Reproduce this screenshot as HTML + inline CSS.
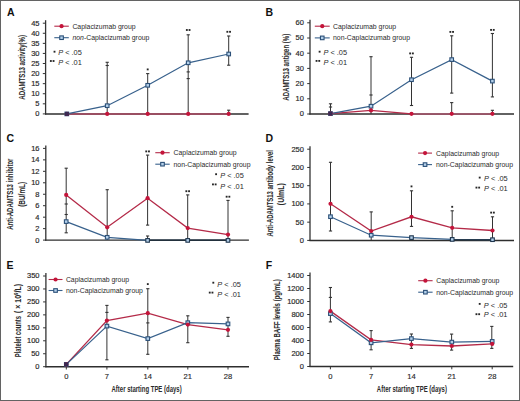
<!DOCTYPE html>
<html><head><meta charset="utf-8"><style>
html,body{margin:0;padding:0;background:#fff;}
#wrap{position:relative;width:520px;height:401px;box-sizing:border-box;border:1px solid #636363;overflow:hidden;background:#fff;}
svg{position:absolute;left:-1px;top:-1px;}
text{font-family:"Liberation Sans", sans-serif;}
</style></head><body><div id="wrap">
<svg width="520" height="401" viewBox="0 0 520 401" font-family='"Liberation Sans", sans-serif'>
<line x1="45.6" y1="20.2" x2="45.6" y2="114.5" stroke="#333" stroke-width="1.3"/>
<line x1="42.800000000000004" y1="113.90" x2="45.6" y2="113.90" stroke="#333" stroke-width="1"/>
<text x="39.5" y="116.35000000000001" font-size="7.5" text-anchor="end" font-weight="normal" font-style="normal" fill="#2a2a2a" stroke="#2a2a2a" stroke-width="0.18">0</text>
<line x1="42.800000000000004" y1="103.82" x2="45.6" y2="103.82" stroke="#333" stroke-width="1"/>
<text x="39.5" y="106.27222222222223" font-size="7.5" text-anchor="end" font-weight="normal" font-style="normal" fill="#2a2a2a" stroke="#2a2a2a" stroke-width="0.18">5</text>
<line x1="42.800000000000004" y1="93.74" x2="45.6" y2="93.74" stroke="#333" stroke-width="1"/>
<text x="39.5" y="96.19444444444446" font-size="7.5" text-anchor="end" font-weight="normal" font-style="normal" fill="#2a2a2a" stroke="#2a2a2a" stroke-width="0.18">10</text>
<line x1="42.800000000000004" y1="83.67" x2="45.6" y2="83.67" stroke="#333" stroke-width="1"/>
<text x="39.5" y="86.11666666666667" font-size="7.5" text-anchor="end" font-weight="normal" font-style="normal" fill="#2a2a2a" stroke="#2a2a2a" stroke-width="0.18">15</text>
<line x1="42.800000000000004" y1="73.59" x2="45.6" y2="73.59" stroke="#333" stroke-width="1"/>
<text x="39.5" y="76.0388888888889" font-size="7.5" text-anchor="end" font-weight="normal" font-style="normal" fill="#2a2a2a" stroke="#2a2a2a" stroke-width="0.18">20</text>
<line x1="42.800000000000004" y1="63.51" x2="45.6" y2="63.51" stroke="#333" stroke-width="1"/>
<text x="39.5" y="65.96111111111112" font-size="7.5" text-anchor="end" font-weight="normal" font-style="normal" fill="#2a2a2a" stroke="#2a2a2a" stroke-width="0.18">25</text>
<line x1="42.800000000000004" y1="53.43" x2="45.6" y2="53.43" stroke="#333" stroke-width="1"/>
<text x="39.5" y="55.88333333333334" font-size="7.5" text-anchor="end" font-weight="normal" font-style="normal" fill="#2a2a2a" stroke="#2a2a2a" stroke-width="0.18">30</text>
<line x1="42.800000000000004" y1="43.36" x2="45.6" y2="43.36" stroke="#333" stroke-width="1"/>
<text x="39.5" y="45.80555555555556" font-size="7.5" text-anchor="end" font-weight="normal" font-style="normal" fill="#2a2a2a" stroke="#2a2a2a" stroke-width="0.18">35</text>
<line x1="42.800000000000004" y1="33.28" x2="45.6" y2="33.28" stroke="#333" stroke-width="1"/>
<text x="39.5" y="35.72777777777779" font-size="7.5" text-anchor="end" font-weight="normal" font-style="normal" fill="#2a2a2a" stroke="#2a2a2a" stroke-width="0.18">40</text>
<line x1="42.800000000000004" y1="23.20" x2="45.6" y2="23.20" stroke="#333" stroke-width="1"/>
<text x="39.5" y="25.650000000000002" font-size="7.5" text-anchor="end" font-weight="normal" font-style="normal" fill="#2a2a2a" stroke="#2a2a2a" stroke-width="0.18">45</text>
<line x1="45.0" y1="113.9" x2="248.6" y2="113.9" stroke="#2e2e2e" stroke-width="1.45"/>
<line x1="107.2" y1="62.3" x2="107.2" y2="113.9" stroke="#333" stroke-width="1"/>
<line x1="105.60000000000001" y1="62.3" x2="108.8" y2="62.3" stroke="#333" stroke-width="1.1"/>
<line x1="105.60000000000001" y1="65.5" x2="108.8" y2="65.5" stroke="#333" stroke-width="1.1"/>
<line x1="147.7" y1="73.6" x2="147.7" y2="113.9" stroke="#333" stroke-width="1"/>
<line x1="146.1" y1="73.6" x2="149.29999999999998" y2="73.6" stroke="#333" stroke-width="1.1"/>
<line x1="188.2" y1="34.8" x2="188.2" y2="113.9" stroke="#333" stroke-width="1"/>
<line x1="186.6" y1="34.8" x2="189.79999999999998" y2="34.8" stroke="#333" stroke-width="1.1"/>
<line x1="186.6" y1="71.9" x2="189.79999999999998" y2="71.9" stroke="#333" stroke-width="1.1"/>
<line x1="186.6" y1="78.6" x2="189.79999999999998" y2="78.6" stroke="#333" stroke-width="1.1"/>
<line x1="228.7" y1="36" x2="228.7" y2="65.2" stroke="#333" stroke-width="1"/>
<line x1="227.1" y1="36" x2="230.29999999999998" y2="36" stroke="#333" stroke-width="1.1"/>
<line x1="227.1" y1="65.2" x2="230.29999999999998" y2="65.2" stroke="#333" stroke-width="1.1"/>
<line x1="228.7" y1="110.2" x2="228.7" y2="113.9" stroke="#333" stroke-width="1"/>
<line x1="227.1" y1="110.2" x2="230.29999999999998" y2="110.2" stroke="#333" stroke-width="1.1"/>
<polyline points="66.8,113.9 107.2,113.9 147.7,113.9 188.2,113.9 228.7,113.9" fill="none" stroke="#9a4f62" stroke-width="2.0"/>
<polyline points="66.8,113.9 107.2,105.7 147.7,85.3 188.2,62.8 228.7,54.0" fill="none" stroke="#38618c" stroke-width="1.25"/>
<rect x="65.00" y="112.10" width="3.6" height="3.6" fill="#b4d0ea" stroke="#2c5078" stroke-width="1.1"/>
<rect x="105.40" y="103.90" width="3.6" height="3.6" fill="#b4d0ea" stroke="#2c5078" stroke-width="1.1"/>
<rect x="145.90" y="83.50" width="3.6" height="3.6" fill="#b4d0ea" stroke="#2c5078" stroke-width="1.1"/>
<rect x="186.40" y="61.00" width="3.6" height="3.6" fill="#b4d0ea" stroke="#2c5078" stroke-width="1.1"/>
<rect x="226.90" y="52.20" width="3.6" height="3.6" fill="#b4d0ea" stroke="#2c5078" stroke-width="1.1"/>
<circle cx="66.8" cy="113.9" r="2.1" fill="#c4143a"/>
<circle cx="107.2" cy="113.9" r="2.1" fill="#c4143a"/>
<circle cx="147.7" cy="113.9" r="2.1" fill="#c4143a"/>
<circle cx="188.2" cy="113.9" r="2.1" fill="#c4143a"/>
<circle cx="228.7" cy="113.9" r="2.1" fill="#c4143a"/>
<rect x="64.95" y="111.95" width="3.9" height="3.9" fill="#3a2a52"/>
<rect x="146.77" y="68.48" width="1.85" height="1.85" fill="#262626"/>
<rect x="185.92" y="29.07" width="1.85" height="1.85" fill="#262626"/>
<rect x="188.62" y="29.07" width="1.85" height="1.85" fill="#262626"/>
<rect x="226.42" y="30.87" width="1.85" height="1.85" fill="#262626"/>
<rect x="229.12" y="30.87" width="1.85" height="1.85" fill="#262626"/>
<line x1="54.3" y1="26.2" x2="68.8" y2="26.2" stroke="#b42a48" stroke-width="1.1"/>
<circle cx="61.55" cy="26.2" r="2.1" fill="#c4143a"/>
<line x1="54.3" y1="37.7" x2="68.8" y2="37.7" stroke="#38618c" stroke-width="1.1"/>
<rect x="59.75" y="35.90" width="3.6" height="3.6" fill="#b4d0ea" stroke="#2c5078" stroke-width="1.1"/>
<text x="72.4" y="28.7" font-size="6.9" text-anchor="start" font-weight="normal" font-style="normal" fill="#2a2a2a" >Caplacizumab group</text>
<text x="72.4" y="40.2" font-size="6.9" text-anchor="start" font-weight="normal" font-style="normal" fill="#2a2a2a" ><tspan font-style="italic">non</tspan>-Caplacizumab group</text>
<rect x="53.58" y="50.77" width="1.85" height="1.85" fill="#262626"/>
<text x="58.2" y="55.1" font-size="7.4" text-anchor="start" font-weight="normal" font-style="normal" fill="#2a2a2a" ><tspan font-style="italic">P</tspan> &lt; .05</text>
<rect x="49.93" y="60.08" width="1.85" height="1.85" fill="#262626"/>
<rect x="52.63" y="60.08" width="1.85" height="1.85" fill="#262626"/>
<text x="58.2" y="64.7" font-size="7.4" text-anchor="start" font-weight="normal" font-style="normal" fill="#2a2a2a" ><tspan font-style="italic">P</tspan> &lt; .01</text>
<text x="7" y="15.6" font-size="10.5" text-anchor="start" font-weight="bold" font-style="normal" fill="#111" >A</text>
<text x="0" y="0" font-size="8.8" font-weight="bold" text-anchor="middle" fill="#2a2a2a" stroke="#2a2a2a" stroke-width="0.05" transform="translate(25.4 67.4) rotate(-90) scale(0.69 1)">ADAMTS13 activity(%)</text>
<line x1="310" y1="19.8" x2="310" y2="114.6" stroke="#333" stroke-width="1.3"/>
<line x1="307.2" y1="114.00" x2="310" y2="114.00" stroke="#333" stroke-width="1"/>
<text x="303.9" y="116.45" font-size="7.5" text-anchor="end" font-weight="normal" font-style="normal" fill="#2a2a2a" stroke="#2a2a2a" stroke-width="0.18">0</text>
<line x1="307.2" y1="98.80" x2="310" y2="98.80" stroke="#333" stroke-width="1"/>
<text x="303.9" y="101.25" font-size="7.5" text-anchor="end" font-weight="normal" font-style="normal" fill="#2a2a2a" stroke="#2a2a2a" stroke-width="0.18">10</text>
<line x1="307.2" y1="83.60" x2="310" y2="83.60" stroke="#333" stroke-width="1"/>
<text x="303.9" y="86.05" font-size="7.5" text-anchor="end" font-weight="normal" font-style="normal" fill="#2a2a2a" stroke="#2a2a2a" stroke-width="0.18">20</text>
<line x1="307.2" y1="68.40" x2="310" y2="68.40" stroke="#333" stroke-width="1"/>
<text x="303.9" y="70.85000000000001" font-size="7.5" text-anchor="end" font-weight="normal" font-style="normal" fill="#2a2a2a" stroke="#2a2a2a" stroke-width="0.18">30</text>
<line x1="307.2" y1="53.20" x2="310" y2="53.20" stroke="#333" stroke-width="1"/>
<text x="303.9" y="55.650000000000006" font-size="7.5" text-anchor="end" font-weight="normal" font-style="normal" fill="#2a2a2a" stroke="#2a2a2a" stroke-width="0.18">40</text>
<line x1="307.2" y1="38.00" x2="310" y2="38.00" stroke="#333" stroke-width="1"/>
<text x="303.9" y="40.45" font-size="7.5" text-anchor="end" font-weight="normal" font-style="normal" fill="#2a2a2a" stroke="#2a2a2a" stroke-width="0.18">50</text>
<line x1="307.2" y1="22.80" x2="310" y2="22.80" stroke="#333" stroke-width="1"/>
<text x="303.9" y="25.249999999999996" font-size="7.5" text-anchor="end" font-weight="normal" font-style="normal" fill="#2a2a2a" stroke="#2a2a2a" stroke-width="0.18">60</text>
<line x1="309.4" y1="114" x2="514" y2="114" stroke="#2e2e2e" stroke-width="1.45"/>
<line x1="330.5" y1="103.8" x2="330.5" y2="114" stroke="#333" stroke-width="1"/>
<line x1="328.9" y1="103.8" x2="332.1" y2="103.8" stroke="#333" stroke-width="1.1"/>
<line x1="328.9" y1="107" x2="332.1" y2="107" stroke="#333" stroke-width="1.1"/>
<line x1="371" y1="56.7" x2="371" y2="114" stroke="#333" stroke-width="1"/>
<line x1="369.4" y1="56.7" x2="372.6" y2="56.7" stroke="#333" stroke-width="1.1"/>
<line x1="369.4" y1="95" x2="372.6" y2="95" stroke="#333" stroke-width="1.1"/>
<line x1="411.5" y1="57.3" x2="411.5" y2="105.5" stroke="#333" stroke-width="1"/>
<line x1="409.9" y1="57.3" x2="413.1" y2="57.3" stroke="#333" stroke-width="1.1"/>
<line x1="409.9" y1="105.5" x2="413.1" y2="105.5" stroke="#333" stroke-width="1.1"/>
<line x1="451.7" y1="35.8" x2="451.7" y2="93.1" stroke="#333" stroke-width="1"/>
<line x1="450.09999999999997" y1="35.8" x2="453.3" y2="35.8" stroke="#333" stroke-width="1.1"/>
<line x1="450.09999999999997" y1="93.1" x2="453.3" y2="93.1" stroke="#333" stroke-width="1.1"/>
<line x1="451.7" y1="102.6" x2="451.7" y2="113.5" stroke="#333" stroke-width="1"/>
<line x1="450.09999999999997" y1="102.6" x2="453.3" y2="102.6" stroke="#333" stroke-width="1.1"/>
<line x1="492.4" y1="33.5" x2="492.4" y2="96.9" stroke="#333" stroke-width="1"/>
<line x1="490.79999999999995" y1="33.5" x2="494.0" y2="33.5" stroke="#333" stroke-width="1.1"/>
<line x1="490.79999999999995" y1="96.9" x2="494.0" y2="96.9" stroke="#333" stroke-width="1.1"/>
<line x1="492.4" y1="110.3" x2="492.4" y2="113.5" stroke="#333" stroke-width="1"/>
<line x1="490.79999999999995" y1="110.3" x2="494.0" y2="110.3" stroke="#333" stroke-width="1.1"/>
<polyline points="330.5,113.6 371,110.4 411.5,113.8 451.7,113.8 492.4,113.8" fill="none" stroke="#b42a48" stroke-width="1.3"/>
<polyline points="330.5,113.6 371,106.2 411.5,79.7 451.7,59.6 492.4,81.1" fill="none" stroke="#38618c" stroke-width="1.25"/>
<line x1="411.5" y1="113.9" x2="492.4" y2="113.9" stroke="#9a5a6c" stroke-width="1.9"/>
<rect x="328.70" y="111.80" width="3.6" height="3.6" fill="#b4d0ea" stroke="#2c5078" stroke-width="1.1"/>
<rect x="369.20" y="104.40" width="3.6" height="3.6" fill="#b4d0ea" stroke="#2c5078" stroke-width="1.1"/>
<rect x="409.70" y="77.90" width="3.6" height="3.6" fill="#b4d0ea" stroke="#2c5078" stroke-width="1.1"/>
<rect x="449.90" y="57.80" width="3.6" height="3.6" fill="#b4d0ea" stroke="#2c5078" stroke-width="1.1"/>
<rect x="490.60" y="79.30" width="3.6" height="3.6" fill="#b4d0ea" stroke="#2c5078" stroke-width="1.1"/>
<circle cx="330.5" cy="113.6" r="2.1" fill="#c4143a"/>
<circle cx="371" cy="110.4" r="2.1" fill="#c4143a"/>
<circle cx="411.5" cy="113.8" r="2.1" fill="#c4143a"/>
<circle cx="451.7" cy="113.8" r="2.1" fill="#c4143a"/>
<circle cx="492.4" cy="113.8" r="2.1" fill="#c4143a"/>
<rect x="328.35" y="111.55" width="3.9" height="3.9" fill="#3a2a52"/>
<rect x="409.22" y="52.48" width="1.85" height="1.85" fill="#262626"/>
<rect x="411.93" y="52.48" width="1.85" height="1.85" fill="#262626"/>
<rect x="449.42" y="30.97" width="1.85" height="1.85" fill="#262626"/>
<rect x="452.12" y="30.97" width="1.85" height="1.85" fill="#262626"/>
<rect x="490.12" y="28.97" width="1.85" height="1.85" fill="#262626"/>
<rect x="492.82" y="28.97" width="1.85" height="1.85" fill="#262626"/>
<line x1="314.8" y1="26.2" x2="329.7" y2="26.2" stroke="#b42a48" stroke-width="1.1"/>
<circle cx="322.25" cy="26.2" r="2.1" fill="#c4143a"/>
<line x1="314.8" y1="37.9" x2="329.7" y2="37.9" stroke="#38618c" stroke-width="1.1"/>
<rect x="320.45" y="36.10" width="3.6" height="3.6" fill="#b4d0ea" stroke="#2c5078" stroke-width="1.1"/>
<text x="333" y="28.7" font-size="6.9" text-anchor="start" font-weight="normal" font-style="normal" fill="#2a2a2a" >Caplacizumab group</text>
<text x="333" y="40.4" font-size="6.9" text-anchor="start" font-weight="normal" font-style="normal" fill="#2a2a2a" >non-Caplacizumab group</text>
<rect x="318.68" y="50.77" width="1.85" height="1.85" fill="#262626"/>
<text x="323.4" y="54.8" font-size="7.4" text-anchor="start" font-weight="normal" font-style="normal" fill="#2a2a2a" ><tspan font-style="italic">P</tspan> &lt; .05</text>
<rect x="315.62" y="59.98" width="1.85" height="1.85" fill="#262626"/>
<rect x="318.32" y="59.98" width="1.85" height="1.85" fill="#262626"/>
<text x="323.4" y="64.6" font-size="7.4" text-anchor="start" font-weight="normal" font-style="normal" fill="#2a2a2a" ><tspan font-style="italic">P</tspan> &lt; .01</text>
<text x="265.6" y="15.7" font-size="10.5" text-anchor="start" font-weight="bold" font-style="normal" fill="#111" >B</text>
<text x="0" y="0" font-size="8.8" font-weight="bold" text-anchor="middle" fill="#2a2a2a" stroke="#2a2a2a" stroke-width="0.05" transform="translate(289.2 67.25) rotate(-90) scale(0.688 1)">ADAMTS13 antigen (%)</text>
<line x1="45.8" y1="145.4" x2="45.8" y2="240.7" stroke="#333" stroke-width="1.3"/>
<line x1="43.0" y1="240.10" x2="45.8" y2="240.10" stroke="#333" stroke-width="1"/>
<text x="39.5" y="242.54999999999998" font-size="7.5" text-anchor="end" font-weight="normal" font-style="normal" fill="#2a2a2a" stroke="#2a2a2a" stroke-width="0.18">0</text>
<line x1="43.0" y1="228.64" x2="45.8" y2="228.64" stroke="#333" stroke-width="1"/>
<text x="39.5" y="231.08749999999998" font-size="7.5" text-anchor="end" font-weight="normal" font-style="normal" fill="#2a2a2a" stroke="#2a2a2a" stroke-width="0.18">2</text>
<line x1="43.0" y1="217.18" x2="45.8" y2="217.18" stroke="#333" stroke-width="1"/>
<text x="39.5" y="219.625" font-size="7.5" text-anchor="end" font-weight="normal" font-style="normal" fill="#2a2a2a" stroke="#2a2a2a" stroke-width="0.18">4</text>
<line x1="43.0" y1="205.71" x2="45.8" y2="205.71" stroke="#333" stroke-width="1"/>
<text x="39.5" y="208.1625" font-size="7.5" text-anchor="end" font-weight="normal" font-style="normal" fill="#2a2a2a" stroke="#2a2a2a" stroke-width="0.18">6</text>
<line x1="43.0" y1="194.25" x2="45.8" y2="194.25" stroke="#333" stroke-width="1"/>
<text x="39.5" y="196.7" font-size="7.5" text-anchor="end" font-weight="normal" font-style="normal" fill="#2a2a2a" stroke="#2a2a2a" stroke-width="0.18">8</text>
<line x1="43.0" y1="182.79" x2="45.8" y2="182.79" stroke="#333" stroke-width="1"/>
<text x="39.5" y="185.23749999999998" font-size="7.5" text-anchor="end" font-weight="normal" font-style="normal" fill="#2a2a2a" stroke="#2a2a2a" stroke-width="0.18">10</text>
<line x1="43.0" y1="171.32" x2="45.8" y2="171.32" stroke="#333" stroke-width="1"/>
<text x="39.5" y="173.77499999999998" font-size="7.5" text-anchor="end" font-weight="normal" font-style="normal" fill="#2a2a2a" stroke="#2a2a2a" stroke-width="0.18">12</text>
<line x1="43.0" y1="159.86" x2="45.8" y2="159.86" stroke="#333" stroke-width="1"/>
<text x="39.5" y="162.3125" font-size="7.5" text-anchor="end" font-weight="normal" font-style="normal" fill="#2a2a2a" stroke="#2a2a2a" stroke-width="0.18">14</text>
<line x1="43.0" y1="148.40" x2="45.8" y2="148.40" stroke="#333" stroke-width="1"/>
<text x="39.5" y="150.85" font-size="7.5" text-anchor="end" font-weight="normal" font-style="normal" fill="#2a2a2a" stroke="#2a2a2a" stroke-width="0.18">16</text>
<line x1="45.199999999999996" y1="240.1" x2="248.9" y2="240.1" stroke="#2e2e2e" stroke-width="1.45"/>
<line x1="66.2" y1="168.2" x2="66.2" y2="232.8" stroke="#333" stroke-width="1"/>
<line x1="64.60000000000001" y1="168.2" x2="67.8" y2="168.2" stroke="#333" stroke-width="1.1"/>
<line x1="64.60000000000001" y1="204" x2="67.8" y2="204" stroke="#333" stroke-width="1.1"/>
<line x1="64.60000000000001" y1="214.5" x2="67.8" y2="214.5" stroke="#333" stroke-width="1.1"/>
<line x1="64.60000000000001" y1="232.8" x2="67.8" y2="232.8" stroke="#333" stroke-width="1.1"/>
<line x1="107.2" y1="189.7" x2="107.2" y2="240" stroke="#333" stroke-width="1"/>
<line x1="105.60000000000001" y1="189.7" x2="108.8" y2="189.7" stroke="#333" stroke-width="1.1"/>
<line x1="147.6" y1="155.1" x2="147.6" y2="225.1" stroke="#333" stroke-width="1"/>
<line x1="146.0" y1="155.1" x2="149.2" y2="155.1" stroke="#333" stroke-width="1.1"/>
<line x1="146.0" y1="225.1" x2="149.2" y2="225.1" stroke="#333" stroke-width="1.1"/>
<line x1="147.6" y1="236" x2="147.6" y2="240" stroke="#333" stroke-width="1"/>
<line x1="146.0" y1="236" x2="149.2" y2="236" stroke="#333" stroke-width="1.1"/>
<line x1="187.7" y1="194.9" x2="187.7" y2="240" stroke="#333" stroke-width="1"/>
<line x1="186.1" y1="194.9" x2="189.29999999999998" y2="194.9" stroke="#333" stroke-width="1.1"/>
<line x1="228" y1="200.4" x2="228" y2="240" stroke="#333" stroke-width="1"/>
<line x1="226.4" y1="200.4" x2="229.6" y2="200.4" stroke="#333" stroke-width="1.1"/>
<polyline points="66.2,194.9 107.2,227.3 147.6,198.2 187.7,228.1 228,234.6" fill="none" stroke="#b42a48" stroke-width="1.3"/>
<polyline points="66.2,221.6 107.2,237.3 147.6,240.4 187.7,240.4 228,240.4" fill="none" stroke="#38618c" stroke-width="1.25"/>
<line x1="147.6" y1="240.2" x2="228" y2="240.2" stroke="#22303c" stroke-width="1.5"/>
<rect x="64.40" y="219.80" width="3.6" height="3.6" fill="#b4d0ea" stroke="#2c5078" stroke-width="1.1"/>
<rect x="105.40" y="235.50" width="3.6" height="3.6" fill="#b4d0ea" stroke="#2c5078" stroke-width="1.1"/>
<rect x="145.80" y="238.60" width="3.6" height="3.6" fill="#b4d0ea" stroke="#1f364e" stroke-width="1.1"/>
<rect x="185.90" y="238.60" width="3.6" height="3.6" fill="#b4d0ea" stroke="#1f364e" stroke-width="1.1"/>
<rect x="226.20" y="238.60" width="3.6" height="3.6" fill="#b4d0ea" stroke="#1f364e" stroke-width="1.1"/>
<circle cx="66.2" cy="194.9" r="2.1" fill="#c4143a"/>
<circle cx="107.2" cy="227.3" r="2.1" fill="#c4143a"/>
<circle cx="147.6" cy="198.2" r="2.1" fill="#c4143a"/>
<circle cx="187.7" cy="228.1" r="2.1" fill="#c4143a"/>
<circle cx="228" cy="234.6" r="2.1" fill="#c4143a"/>
<rect x="145.32" y="150.47" width="1.85" height="1.85" fill="#262626"/>
<rect x="148.02" y="150.47" width="1.85" height="1.85" fill="#262626"/>
<rect x="185.42" y="190.28" width="1.85" height="1.85" fill="#262626"/>
<rect x="188.12" y="190.28" width="1.85" height="1.85" fill="#262626"/>
<rect x="225.72" y="195.78" width="1.85" height="1.85" fill="#262626"/>
<rect x="228.42" y="195.78" width="1.85" height="1.85" fill="#262626"/>
<line x1="155.3" y1="152.7" x2="169.7" y2="152.7" stroke="#b42a48" stroke-width="1.1"/>
<circle cx="162.5" cy="152.7" r="2.1" fill="#c4143a"/>
<line x1="155.3" y1="164.2" x2="169.7" y2="164.2" stroke="#38618c" stroke-width="1.1"/>
<rect x="160.70" y="162.40" width="3.6" height="3.6" fill="#b4d0ea" stroke="#2c5078" stroke-width="1.1"/>
<text x="173.5" y="155.2" font-size="6.9" text-anchor="start" font-weight="normal" font-style="normal" fill="#2a2a2a" >Caplacizumab group</text>
<text x="173.5" y="166.7" font-size="6.9" text-anchor="start" font-weight="normal" font-style="normal" fill="#2a2a2a" >non-Caplacizumab group</text>
<rect x="215.17" y="173.28" width="1.85" height="1.85" fill="#262626"/>
<text x="220.2" y="178.2" font-size="7.4" text-anchor="start" font-weight="normal" font-style="normal" fill="#2a2a2a" ><tspan font-style="italic">P</tspan> &lt; .05</text>
<rect x="212.03" y="183.47" width="1.85" height="1.85" fill="#262626"/>
<rect x="214.72" y="183.47" width="1.85" height="1.85" fill="#262626"/>
<text x="220.2" y="188.6" font-size="7.4" text-anchor="start" font-weight="normal" font-style="normal" fill="#2a2a2a" ><tspan font-style="italic">P</tspan> &lt; .01</text>
<text x="6.5" y="142.1" font-size="10.5" text-anchor="start" font-weight="bold" font-style="normal" fill="#111" >C</text>
<text x="0" y="0" font-size="8.2" font-weight="bold" text-anchor="middle" fill="#2a2a2a" stroke="#2a2a2a" stroke-width="0.05" transform="translate(13.3 194.2) rotate(-90) scale(0.728 1)">Anti-ADAMTS13 inhibitor</text>
<text x="0" y="0" font-size="8.2" font-weight="bold" text-anchor="middle" fill="#2a2a2a" stroke="#2a2a2a" stroke-width="0.05" transform="translate(24.8 194.3) rotate(-90) scale(0.784 1)">(BU/mL)</text>
<line x1="310" y1="146.2" x2="310" y2="241.0" stroke="#333" stroke-width="1.3"/>
<line x1="307.2" y1="240.40" x2="310" y2="240.40" stroke="#333" stroke-width="1"/>
<text x="303.9" y="242.85" font-size="7.5" text-anchor="end" font-weight="normal" font-style="normal" fill="#2a2a2a" stroke="#2a2a2a" stroke-width="0.18">0</text>
<line x1="307.2" y1="222.16" x2="310" y2="222.16" stroke="#333" stroke-width="1"/>
<text x="303.9" y="224.60999999999999" font-size="7.5" text-anchor="end" font-weight="normal" font-style="normal" fill="#2a2a2a" stroke="#2a2a2a" stroke-width="0.18">50</text>
<line x1="307.2" y1="203.92" x2="310" y2="203.92" stroke="#333" stroke-width="1"/>
<text x="303.9" y="206.37" font-size="7.5" text-anchor="end" font-weight="normal" font-style="normal" fill="#2a2a2a" stroke="#2a2a2a" stroke-width="0.18">100</text>
<line x1="307.2" y1="185.68" x2="310" y2="185.68" stroke="#333" stroke-width="1"/>
<text x="303.9" y="188.13" font-size="7.5" text-anchor="end" font-weight="normal" font-style="normal" fill="#2a2a2a" stroke="#2a2a2a" stroke-width="0.18">150</text>
<line x1="307.2" y1="167.44" x2="310" y2="167.44" stroke="#333" stroke-width="1"/>
<text x="303.9" y="169.89" font-size="7.5" text-anchor="end" font-weight="normal" font-style="normal" fill="#2a2a2a" stroke="#2a2a2a" stroke-width="0.18">200</text>
<line x1="307.2" y1="149.20" x2="310" y2="149.20" stroke="#333" stroke-width="1"/>
<text x="303.9" y="151.64999999999998" font-size="7.5" text-anchor="end" font-weight="normal" font-style="normal" fill="#2a2a2a" stroke="#2a2a2a" stroke-width="0.18">250</text>
<line x1="309.4" y1="240.4" x2="514" y2="240.4" stroke="#2e2e2e" stroke-width="1.45"/>
<line x1="330.5" y1="162.3" x2="330.5" y2="231" stroke="#333" stroke-width="1"/>
<line x1="328.9" y1="162.3" x2="332.1" y2="162.3" stroke="#333" stroke-width="1.1"/>
<line x1="328.9" y1="231" x2="332.1" y2="231" stroke="#333" stroke-width="1.1"/>
<line x1="371.2" y1="211.9" x2="371.2" y2="240" stroke="#333" stroke-width="1"/>
<line x1="369.59999999999997" y1="211.9" x2="372.8" y2="211.9" stroke="#333" stroke-width="1.1"/>
<line x1="411.5" y1="190.8" x2="411.5" y2="226.4" stroke="#333" stroke-width="1"/>
<line x1="409.9" y1="190.8" x2="413.1" y2="190.8" stroke="#333" stroke-width="1.1"/>
<line x1="409.9" y1="226.4" x2="413.1" y2="226.4" stroke="#333" stroke-width="1.1"/>
<line x1="452.2" y1="210.8" x2="452.2" y2="240" stroke="#333" stroke-width="1"/>
<line x1="450.59999999999997" y1="210.8" x2="453.8" y2="210.8" stroke="#333" stroke-width="1.1"/>
<line x1="492.5" y1="216.8" x2="492.5" y2="240" stroke="#333" stroke-width="1"/>
<line x1="490.9" y1="216.8" x2="494.1" y2="216.8" stroke="#333" stroke-width="1.1"/>
<polyline points="330.5,203.8 371.2,231 411.5,216.8 452.2,227.8 492.5,230.5" fill="none" stroke="#b42a48" stroke-width="1.3"/>
<polyline points="330.5,216.7 371.2,235.2 411.5,237.6 452.2,239.4 492.5,239.7" fill="none" stroke="#38618c" stroke-width="1.25"/>
<line x1="452.2" y1="239.9" x2="492.5" y2="239.9" stroke="#22303c" stroke-width="1.4"/>
<rect x="328.70" y="214.90" width="3.6" height="3.6" fill="#b4d0ea" stroke="#2c5078" stroke-width="1.1"/>
<rect x="369.40" y="233.40" width="3.6" height="3.6" fill="#b4d0ea" stroke="#2c5078" stroke-width="1.1"/>
<rect x="409.70" y="235.80" width="3.6" height="3.6" fill="#b4d0ea" stroke="#1f364e" stroke-width="1.1"/>
<rect x="450.40" y="237.60" width="3.6" height="3.6" fill="#b4d0ea" stroke="#1f364e" stroke-width="1.1"/>
<rect x="490.70" y="237.90" width="3.6" height="3.6" fill="#b4d0ea" stroke="#1f364e" stroke-width="1.1"/>
<circle cx="330.5" cy="203.8" r="2.1" fill="#c4143a"/>
<circle cx="371.2" cy="231" r="2.1" fill="#c4143a"/>
<circle cx="411.5" cy="216.8" r="2.1" fill="#c4143a"/>
<circle cx="452.2" cy="227.8" r="2.1" fill="#c4143a"/>
<circle cx="492.5" cy="230.5" r="2.1" fill="#c4143a"/>
<rect x="410.57" y="185.47" width="1.85" height="1.85" fill="#262626"/>
<rect x="451.27" y="205.88" width="1.85" height="1.85" fill="#262626"/>
<rect x="490.22" y="211.67" width="1.85" height="1.85" fill="#262626"/>
<rect x="492.93" y="211.67" width="1.85" height="1.85" fill="#262626"/>
<line x1="418.1" y1="153.1" x2="432" y2="153.1" stroke="#b42a48" stroke-width="1.1"/>
<circle cx="425.05" cy="153.1" r="2.1" fill="#c4143a"/>
<line x1="418.1" y1="164.6" x2="432" y2="164.6" stroke="#38618c" stroke-width="1.1"/>
<rect x="423.25" y="162.80" width="3.6" height="3.6" fill="#b4d0ea" stroke="#2c5078" stroke-width="1.1"/>
<text x="436" y="155.6" font-size="6.9" text-anchor="start" font-weight="normal" font-style="normal" fill="#2a2a2a" >Caplacizumab group</text>
<text x="436" y="167.1" font-size="6.9" text-anchor="start" font-weight="normal" font-style="normal" fill="#2a2a2a" >non-Caplacizumab group</text>
<rect x="478.77" y="176.67" width="1.85" height="1.85" fill="#262626"/>
<text x="484.1" y="181.4" font-size="7.4" text-anchor="start" font-weight="normal" font-style="normal" fill="#2a2a2a" ><tspan font-style="italic">P</tspan> &lt; .05</text>
<rect x="475.52" y="186.67" width="1.85" height="1.85" fill="#262626"/>
<rect x="478.23" y="186.67" width="1.85" height="1.85" fill="#262626"/>
<text x="484.1" y="191.2" font-size="7.4" text-anchor="start" font-weight="normal" font-style="normal" fill="#2a2a2a" ><tspan font-style="italic">P</tspan> &lt; .01</text>
<text x="265.6" y="142.1" font-size="10.5" text-anchor="start" font-weight="bold" font-style="normal" fill="#111" >D</text>
<text x="0" y="0" font-size="8.2" font-weight="bold" text-anchor="middle" fill="#2a2a2a" stroke="#2a2a2a" stroke-width="0.05" transform="translate(272.8 193.3) rotate(-90) scale(0.723 1)">Anti-ADAMTS13 antibody level</text>
<text x="0" y="0" font-size="8.2" font-weight="bold" text-anchor="middle" fill="#2a2a2a" stroke="#2a2a2a" stroke-width="0.05" transform="translate(284.3 194.2) rotate(-90) scale(0.844 1)">(U/mL)</text>
<line x1="45.9" y1="273" x2="45.9" y2="367.3" stroke="#333" stroke-width="1.3"/>
<line x1="43.1" y1="366.70" x2="45.9" y2="366.70" stroke="#333" stroke-width="1"/>
<text x="39.5" y="369.15" font-size="7.5" text-anchor="end" font-weight="normal" font-style="normal" fill="#2a2a2a" stroke="#2a2a2a" stroke-width="0.18">0</text>
<line x1="43.1" y1="353.74" x2="45.9" y2="353.74" stroke="#333" stroke-width="1"/>
<text x="39.5" y="356.1928571428571" font-size="7.5" text-anchor="end" font-weight="normal" font-style="normal" fill="#2a2a2a" stroke="#2a2a2a" stroke-width="0.18">50</text>
<line x1="43.1" y1="340.79" x2="45.9" y2="340.79" stroke="#333" stroke-width="1"/>
<text x="39.5" y="343.23571428571427" font-size="7.5" text-anchor="end" font-weight="normal" font-style="normal" fill="#2a2a2a" stroke="#2a2a2a" stroke-width="0.18">100</text>
<line x1="43.1" y1="327.83" x2="45.9" y2="327.83" stroke="#333" stroke-width="1"/>
<text x="39.5" y="330.2785714285714" font-size="7.5" text-anchor="end" font-weight="normal" font-style="normal" fill="#2a2a2a" stroke="#2a2a2a" stroke-width="0.18">150</text>
<line x1="43.1" y1="314.87" x2="45.9" y2="314.87" stroke="#333" stroke-width="1"/>
<text x="39.5" y="317.32142857142856" font-size="7.5" text-anchor="end" font-weight="normal" font-style="normal" fill="#2a2a2a" stroke="#2a2a2a" stroke-width="0.18">200</text>
<line x1="43.1" y1="301.91" x2="45.9" y2="301.91" stroke="#333" stroke-width="1"/>
<text x="39.5" y="304.3642857142857" font-size="7.5" text-anchor="end" font-weight="normal" font-style="normal" fill="#2a2a2a" stroke="#2a2a2a" stroke-width="0.18">250</text>
<line x1="43.1" y1="288.96" x2="45.9" y2="288.96" stroke="#333" stroke-width="1"/>
<text x="39.5" y="291.40714285714284" font-size="7.5" text-anchor="end" font-weight="normal" font-style="normal" fill="#2a2a2a" stroke="#2a2a2a" stroke-width="0.18">300</text>
<line x1="43.1" y1="276.00" x2="45.9" y2="276.00" stroke="#333" stroke-width="1"/>
<text x="39.5" y="278.45" font-size="7.5" text-anchor="end" font-weight="normal" font-style="normal" fill="#2a2a2a" stroke="#2a2a2a" stroke-width="0.18">350</text>
<line x1="45.3" y1="366.7" x2="249" y2="366.7" stroke="#2e2e2e" stroke-width="1.45"/>
<line x1="66.3" y1="366.7" x2="66.3" y2="369.5" stroke="#333" stroke-width="1"/>
<text x="66.3" y="379.4" font-size="7.6" text-anchor="middle" fill="#2a2a2a" stroke="#2a2a2a" stroke-width="0.15">0</text>
<line x1="106.9" y1="366.7" x2="106.9" y2="369.5" stroke="#333" stroke-width="1"/>
<text x="106.9" y="379.4" font-size="7.6" text-anchor="middle" fill="#2a2a2a" stroke="#2a2a2a" stroke-width="0.15">7</text>
<line x1="147.8" y1="366.7" x2="147.8" y2="369.5" stroke="#333" stroke-width="1"/>
<text x="147.8" y="379.4" font-size="7.6" text-anchor="middle" fill="#2a2a2a" stroke="#2a2a2a" stroke-width="0.15">14</text>
<line x1="187.8" y1="366.7" x2="187.8" y2="369.5" stroke="#333" stroke-width="1"/>
<text x="187.8" y="379.4" font-size="7.6" text-anchor="middle" fill="#2a2a2a" stroke="#2a2a2a" stroke-width="0.15">21</text>
<line x1="228" y1="366.7" x2="228" y2="369.5" stroke="#333" stroke-width="1"/>
<text x="228" y="379.4" font-size="7.6" text-anchor="middle" fill="#2a2a2a" stroke="#2a2a2a" stroke-width="0.15">28</text>
<text x="146.6" y="391.6" font-size="8.8" font-weight="bold" text-anchor="middle" fill="#2a2a2a" transform="translate(146.6 0) scale(0.68 1) translate(-146.6 0)">After starting TPE (days)</text>
<line x1="106.9" y1="305.4" x2="106.9" y2="359.8" stroke="#333" stroke-width="1"/>
<line x1="105.30000000000001" y1="305.4" x2="108.5" y2="305.4" stroke="#333" stroke-width="1.1"/>
<line x1="105.30000000000001" y1="312.4" x2="108.5" y2="312.4" stroke="#333" stroke-width="1.1"/>
<line x1="105.30000000000001" y1="359.8" x2="108.5" y2="359.8" stroke="#333" stroke-width="1.1"/>
<line x1="147.8" y1="288.7" x2="147.8" y2="354.3" stroke="#333" stroke-width="1"/>
<line x1="146.20000000000002" y1="288.7" x2="149.4" y2="288.7" stroke="#333" stroke-width="1.1"/>
<line x1="146.20000000000002" y1="322.9" x2="149.4" y2="322.9" stroke="#333" stroke-width="1.1"/>
<line x1="146.20000000000002" y1="354.3" x2="149.4" y2="354.3" stroke="#333" stroke-width="1.1"/>
<line x1="187.8" y1="315.8" x2="187.8" y2="342.7" stroke="#333" stroke-width="1"/>
<line x1="186.20000000000002" y1="315.8" x2="189.4" y2="315.8" stroke="#333" stroke-width="1.1"/>
<line x1="186.20000000000002" y1="342.7" x2="189.4" y2="342.7" stroke="#333" stroke-width="1.1"/>
<line x1="228" y1="317.4" x2="228" y2="336.3" stroke="#333" stroke-width="1"/>
<line x1="226.4" y1="317.4" x2="229.6" y2="317.4" stroke="#333" stroke-width="1.1"/>
<line x1="226.4" y1="336.3" x2="229.6" y2="336.3" stroke="#333" stroke-width="1.1"/>
<polyline points="66.3,364.4 106.9,320.6 147.8,313.2 187.8,324.6 228,329.8" fill="none" stroke="#b42a48" stroke-width="1.3"/>
<polyline points="66.3,364.4 106.9,326.1 147.8,338.6 187.8,322.7 228,323.9" fill="none" stroke="#38618c" stroke-width="1.25"/>
<rect x="64.50" y="362.60" width="3.6" height="3.6" fill="#b4d0ea" stroke="#2c5078" stroke-width="1.1"/>
<rect x="105.10" y="324.30" width="3.6" height="3.6" fill="#b4d0ea" stroke="#2c5078" stroke-width="1.1"/>
<rect x="146.00" y="336.80" width="3.6" height="3.6" fill="#b4d0ea" stroke="#2c5078" stroke-width="1.1"/>
<rect x="186.00" y="320.90" width="3.6" height="3.6" fill="#b4d0ea" stroke="#2c5078" stroke-width="1.1"/>
<rect x="226.20" y="322.10" width="3.6" height="3.6" fill="#b4d0ea" stroke="#2c5078" stroke-width="1.1"/>
<circle cx="66.3" cy="364.4" r="2.1" fill="#c4143a"/>
<circle cx="106.9" cy="320.6" r="2.1" fill="#c4143a"/>
<circle cx="147.8" cy="313.2" r="2.1" fill="#c4143a"/>
<circle cx="187.8" cy="324.6" r="2.1" fill="#c4143a"/>
<circle cx="228" cy="329.8" r="2.1" fill="#c4143a"/>
<rect x="64.15" y="362.45" width="3.9" height="3.9" fill="#3a2a52"/>
<rect x="146.88" y="283.17" width="1.85" height="1.85" fill="#262626"/>
<line x1="48.6" y1="279.5" x2="62.5" y2="279.5" stroke="#b42a48" stroke-width="1.1"/>
<circle cx="55.55" cy="279.5" r="2.1" fill="#c4143a"/>
<line x1="48.6" y1="290.5" x2="62.5" y2="290.5" stroke="#38618c" stroke-width="1.1"/>
<rect x="53.75" y="288.70" width="3.6" height="3.6" fill="#b4d0ea" stroke="#2c5078" stroke-width="1.1"/>
<text x="65.9" y="282.0" font-size="6.9" text-anchor="start" font-weight="normal" font-style="normal" fill="#2a2a2a" >Caplacizumab group</text>
<text x="65.9" y="293.0" font-size="6.9" text-anchor="start" font-weight="normal" font-style="normal" fill="#2a2a2a" >non-Caplacizumab group</text>
<rect x="212.38" y="281.77" width="1.85" height="1.85" fill="#262626"/>
<text x="217.3" y="286.5" font-size="7.4" text-anchor="start" font-weight="normal" font-style="normal" fill="#2a2a2a" ><tspan font-style="italic">P</tspan> &lt; .05</text>
<rect x="208.82" y="291.67" width="1.85" height="1.85" fill="#262626"/>
<rect x="211.52" y="291.67" width="1.85" height="1.85" fill="#262626"/>
<text x="217.3" y="296.8" font-size="7.4" text-anchor="start" font-weight="normal" font-style="normal" fill="#2a2a2a" ><tspan font-style="italic">P</tspan> &lt; .01</text>
<text x="6.5" y="268.6" font-size="10.5" text-anchor="start" font-weight="bold" font-style="normal" fill="#111" >E</text>
<text x="0" y="0" font-size="8.8" font-weight="bold" text-anchor="middle" fill="#2a2a2a" stroke="#2a2a2a" stroke-width="0.05" transform="translate(20.8 336.6) rotate(-90) scale(0.66 1)">Platelet counts</text>
<text x="0" y="0" font-size="8.8" font-weight="bold" text-anchor="middle" fill="#2a2a2a" stroke="#2a2a2a" stroke-width="0.05" transform="translate(20.8 298.5) rotate(-90) scale(0.8 1)">( × 10<tspan font-size="5.5" dy="-3.2">9</tspan><tspan dy="3.2">/L)</tspan></text>
<line x1="310" y1="272.5" x2="310" y2="367.1" stroke="#333" stroke-width="1.3"/>
<line x1="307.2" y1="366.50" x2="310" y2="366.50" stroke="#333" stroke-width="1"/>
<text x="303.9" y="368.95" font-size="7.5" text-anchor="end" font-weight="normal" font-style="normal" fill="#2a2a2a" stroke="#2a2a2a" stroke-width="0.18">0</text>
<line x1="307.2" y1="353.50" x2="310" y2="353.50" stroke="#333" stroke-width="1"/>
<text x="303.9" y="355.95" font-size="7.5" text-anchor="end" font-weight="normal" font-style="normal" fill="#2a2a2a" stroke="#2a2a2a" stroke-width="0.18">200</text>
<line x1="307.2" y1="340.50" x2="310" y2="340.50" stroke="#333" stroke-width="1"/>
<text x="303.9" y="342.95" font-size="7.5" text-anchor="end" font-weight="normal" font-style="normal" fill="#2a2a2a" stroke="#2a2a2a" stroke-width="0.18">400</text>
<line x1="307.2" y1="327.50" x2="310" y2="327.50" stroke="#333" stroke-width="1"/>
<text x="303.9" y="329.95" font-size="7.5" text-anchor="end" font-weight="normal" font-style="normal" fill="#2a2a2a" stroke="#2a2a2a" stroke-width="0.18">600</text>
<line x1="307.2" y1="314.50" x2="310" y2="314.50" stroke="#333" stroke-width="1"/>
<text x="303.9" y="316.95" font-size="7.5" text-anchor="end" font-weight="normal" font-style="normal" fill="#2a2a2a" stroke="#2a2a2a" stroke-width="0.18">800</text>
<line x1="307.2" y1="301.50" x2="310" y2="301.50" stroke="#333" stroke-width="1"/>
<text x="303.9" y="303.95" font-size="7.5" text-anchor="end" font-weight="normal" font-style="normal" fill="#2a2a2a" stroke="#2a2a2a" stroke-width="0.18">1000</text>
<line x1="307.2" y1="288.50" x2="310" y2="288.50" stroke="#333" stroke-width="1"/>
<text x="303.9" y="290.95" font-size="7.5" text-anchor="end" font-weight="normal" font-style="normal" fill="#2a2a2a" stroke="#2a2a2a" stroke-width="0.18">1200</text>
<line x1="307.2" y1="275.50" x2="310" y2="275.50" stroke="#333" stroke-width="1"/>
<text x="303.9" y="277.95" font-size="7.5" text-anchor="end" font-weight="normal" font-style="normal" fill="#2a2a2a" stroke="#2a2a2a" stroke-width="0.18">1400</text>
<line x1="309.4" y1="366.5" x2="513.2" y2="366.5" stroke="#2e2e2e" stroke-width="1.45"/>
<line x1="330.4" y1="366.5" x2="330.4" y2="369.3" stroke="#333" stroke-width="1"/>
<text x="330.4" y="379.4" font-size="7.6" text-anchor="middle" fill="#2a2a2a" stroke="#2a2a2a" stroke-width="0.15">0</text>
<line x1="371.1" y1="366.5" x2="371.1" y2="369.3" stroke="#333" stroke-width="1"/>
<text x="371.1" y="379.4" font-size="7.6" text-anchor="middle" fill="#2a2a2a" stroke="#2a2a2a" stroke-width="0.15">7</text>
<line x1="411.4" y1="366.5" x2="411.4" y2="369.3" stroke="#333" stroke-width="1"/>
<text x="411.4" y="379.4" font-size="7.6" text-anchor="middle" fill="#2a2a2a" stroke="#2a2a2a" stroke-width="0.15">14</text>
<line x1="451.8" y1="366.5" x2="451.8" y2="369.3" stroke="#333" stroke-width="1"/>
<text x="451.8" y="379.4" font-size="7.6" text-anchor="middle" fill="#2a2a2a" stroke="#2a2a2a" stroke-width="0.15">21</text>
<line x1="492.2" y1="366.5" x2="492.2" y2="369.3" stroke="#333" stroke-width="1"/>
<text x="492.2" y="379.4" font-size="7.6" text-anchor="middle" fill="#2a2a2a" stroke="#2a2a2a" stroke-width="0.15">28</text>
<text x="411.9" y="391.6" font-size="8.8" font-weight="bold" text-anchor="middle" fill="#2a2a2a" transform="translate(411.9 0) scale(0.68 1) translate(-411.9 0)">After starting TPE (days)</text>
<line x1="330.4" y1="287.5" x2="330.4" y2="321.9" stroke="#333" stroke-width="1"/>
<line x1="328.79999999999995" y1="287.5" x2="332.0" y2="287.5" stroke="#333" stroke-width="1.1"/>
<line x1="328.79999999999995" y1="297.4" x2="332.0" y2="297.4" stroke="#333" stroke-width="1.1"/>
<line x1="328.79999999999995" y1="321.9" x2="332.0" y2="321.9" stroke="#333" stroke-width="1.1"/>
<line x1="371.1" y1="330.6" x2="371.1" y2="349.8" stroke="#333" stroke-width="1"/>
<line x1="369.5" y1="330.6" x2="372.70000000000005" y2="330.6" stroke="#333" stroke-width="1.1"/>
<line x1="369.5" y1="349.8" x2="372.70000000000005" y2="349.8" stroke="#333" stroke-width="1.1"/>
<line x1="411.4" y1="334" x2="411.4" y2="348.4" stroke="#333" stroke-width="1"/>
<line x1="409.79999999999995" y1="334" x2="413.0" y2="334" stroke="#333" stroke-width="1.1"/>
<line x1="409.79999999999995" y1="348.4" x2="413.0" y2="348.4" stroke="#333" stroke-width="1.1"/>
<line x1="451.6" y1="334.1" x2="451.6" y2="350.1" stroke="#333" stroke-width="1"/>
<line x1="450.0" y1="334.1" x2="453.20000000000005" y2="334.1" stroke="#333" stroke-width="1.1"/>
<line x1="450.0" y1="350.1" x2="453.20000000000005" y2="350.1" stroke="#333" stroke-width="1.1"/>
<line x1="491.8" y1="326.4" x2="491.8" y2="348.4" stroke="#333" stroke-width="1"/>
<line x1="490.2" y1="326.4" x2="493.40000000000003" y2="326.4" stroke="#333" stroke-width="1.1"/>
<line x1="490.2" y1="348.4" x2="493.40000000000003" y2="348.4" stroke="#333" stroke-width="1.1"/>
<polyline points="330.4,311.1 371.1,339.8 411.4,344.6 451.8,346 492.2,343.9" fill="none" stroke="#b42a48" stroke-width="1.3"/>
<polyline points="330.4,313.6 371.1,342.8 411.4,338.6 451.8,342.1 492.2,341.4" fill="none" stroke="#38618c" stroke-width="1.25"/>
<rect x="328.60" y="311.80" width="3.6" height="3.6" fill="#b4d0ea" stroke="#2c5078" stroke-width="1.1"/>
<rect x="369.30" y="341.00" width="3.6" height="3.6" fill="#b4d0ea" stroke="#2c5078" stroke-width="1.1"/>
<rect x="409.60" y="336.80" width="3.6" height="3.6" fill="#b4d0ea" stroke="#2c5078" stroke-width="1.1"/>
<rect x="450.00" y="340.30" width="3.6" height="3.6" fill="#b4d0ea" stroke="#2c5078" stroke-width="1.1"/>
<rect x="490.40" y="339.60" width="3.6" height="3.6" fill="#b4d0ea" stroke="#2c5078" stroke-width="1.1"/>
<circle cx="330.4" cy="311.1" r="2.1" fill="#c4143a"/>
<circle cx="371.1" cy="339.8" r="2.1" fill="#c4143a"/>
<circle cx="411.4" cy="344.6" r="2.1" fill="#c4143a"/>
<circle cx="451.8" cy="346" r="2.1" fill="#c4143a"/>
<circle cx="492.2" cy="343.9" r="2.1" fill="#c4143a"/>
<line x1="418.2" y1="280.7" x2="432.6" y2="280.7" stroke="#b42a48" stroke-width="1.1"/>
<circle cx="425.4" cy="280.7" r="2.1" fill="#c4143a"/>
<line x1="418.2" y1="292.2" x2="432.6" y2="292.2" stroke="#38618c" stroke-width="1.1"/>
<rect x="423.60" y="290.40" width="3.6" height="3.6" fill="#b4d0ea" stroke="#2c5078" stroke-width="1.1"/>
<text x="436.2" y="283.2" font-size="6.9" text-anchor="start" font-weight="normal" font-style="normal" fill="#2a2a2a" >Caplacizumab group</text>
<text x="436.2" y="294.7" font-size="6.9" text-anchor="start" font-weight="normal" font-style="normal" fill="#2a2a2a" >non-Caplacizumab group</text>
<rect x="478.77" y="302.97" width="1.85" height="1.85" fill="#262626"/>
<text x="483.8" y="307.8" font-size="7.4" text-anchor="start" font-weight="normal" font-style="normal" fill="#2a2a2a" ><tspan font-style="italic">P</tspan> &lt; .05</text>
<rect x="475.52" y="313.27" width="1.85" height="1.85" fill="#262626"/>
<rect x="478.23" y="313.27" width="1.85" height="1.85" fill="#262626"/>
<text x="483.8" y="317.4" font-size="7.4" text-anchor="start" font-weight="normal" font-style="normal" fill="#2a2a2a" ><tspan font-style="italic">P</tspan> &lt; .01</text>
<text x="265.8" y="268.6" font-size="10.5" text-anchor="start" font-weight="bold" font-style="normal" fill="#111" >F</text>
<text x="0" y="0" font-size="8.8" font-weight="bold" text-anchor="middle" fill="#2a2a2a" stroke="#2a2a2a" stroke-width="0.05" transform="translate(279.8 319.8) rotate(-90) scale(0.686 1)">Plasma BAFF levels (pg/mL)</text>
</svg></div></body></html>
